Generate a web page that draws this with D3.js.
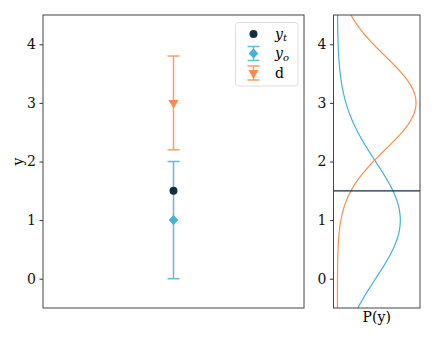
<!DOCTYPE html>
<html>
<head>
<meta charset="utf-8">
<script src="https://cdn.jsdelivr.net/npm/d3@7"></script>
<style>
  body { margin: 0; background: #fff; }
  svg { font-family: "DejaVu Serif", serif; }
</style>
</head>
<body>
<svg id="chart" width="436" height="339"></svg>
<script>
// point estimates and error bars
const names = ['y_t', 'y_o', 'd'];
const centers = [1.5, 1.0, 3.0];
const errors = [null, 1.0, 0.8];
const colors = ['#0e2f44', '#45b2d6', '#ff8c4b'];
const yTicks = [0, 1, 2, 3, 4];

// density curves in the side panel (mean, sd)
const densMeans = [1.0, 3.0];
const densSds = [1.0, 0.8];
const densColors = ['#45b2d6', '#ff8c4b'];

const svg = d3.select('#chart');

const main = { left: 43, right: 304, top: 15, bottom: 308 };
const side = { left: 333.5, right: 420 };

const y = d3.scaleLinear().domain([-0.5, 4.5]).range([main.bottom, main.top]);
const x = d3.scaleLinear().domain([-1, 1]).range([main.left, main.right]);
const xs = d3.scaleLinear().domain([-0.025, 0.524]).range([side.left, side.right]);

function yAxis(g, left) {
  g.attr('transform', `translate(${left},0)`)
    .call(d3.axisLeft(y).tickValues(yTicks).tickFormat(d3.format('d')).tickSize(3.5).tickPadding(3.5))
    .call(g => g.select('.domain').remove())
    .call(g => g.selectAll('line').attr('stroke', '#333'))
    .call(g => g.selectAll('text').attr('font-size', 14).attr('fill', '#111')
      .attr('font-family', '"DejaVu Serif", serif'));
}

svg.append('g').call(yAxis, main.left);
svg.append('g').call(yAxis, side.left);

svg.append('text')
  .attr('transform', `translate(23,${(main.top + main.bottom) / 2}) rotate(-90)`)
  .attr('text-anchor', 'middle')
  .attr('font-size', 14)
  .text('y');

svg.append('text')
  .attr('x', (side.left + side.right) / 2)
  .attr('y', 322)
  .attr('text-anchor', 'middle')
  .attr('font-size', 14)
  .text('P(y)');

// side panel densities
svg.append('clipPath').attr('id', 'sideclip')
  .append('rect')
  .attr('x', side.left).attr('y', main.top)
  .attr('width', side.right - side.left).attr('height', main.bottom - main.top);

const grid = d3.range(-0.5, 4.5001, 0.01);
const pdf = (v, m, s) => Math.exp(-0.5 * ((v - m) / s) ** 2) / (s * Math.sqrt(2 * Math.PI));

const densLine = d3.line().x(d => xs(d[1])).y(d => y(d[0]));
const sideG = svg.append('g').attr('clip-path', 'url(#sideclip)');
densMeans.forEach((m, i) => {
  sideG.append('path')
    .datum(grid.map(v => [v, pdf(v, m, densSds[i])]))
    .attr('fill', 'none')
    .attr('stroke', densColors[i])
    .attr('stroke-width', 1.2)
    .attr('d', densLine);
});
sideG.append('line')
  .attr('x1', side.left).attr('x2', side.right)
  .attr('y1', y(centers[0])).attr('y2', y(centers[0]))
  .attr('stroke', colors[0]).attr('stroke-width', 1.2);

// error bars
const capW = 6;
const pts = svg.append('g');
names.forEach((n, i) => {
  if (errors[i] == null) return;
  const cx = x(0);
  const lo = y(centers[i] - errors[i]), hi = y(centers[i] + errors[i]);
  const g = pts.append('g').attr('stroke', colors[i]).attr('stroke-width', 1.5).attr('opacity', 0.85);
  g.append('line').attr('x1', cx).attr('x2', cx).attr('y1', lo).attr('y2', hi);
  g.append('line').attr('x1', cx - capW).attr('x2', cx + capW).attr('y1', lo).attr('y2', lo);
  g.append('line').attr('x1', cx - capW).attr('x2', cx + capW).attr('y1', hi).attr('y2', hi);
});

const symbols = [d3.symbolCircle, d3.symbolSquare, d3.symbolTriangle];
const sizes = [50, 52, 45];
function marker(sel, i, cx, cy) {
  const p = sel.append('path')
    .attr('d', d3.symbol(symbols[i], sizes[i])())
    .attr('fill', colors[i]);
  if (i === 1) p.attr('transform', `translate(${cx},${cy}) scale(0.95,1) rotate(45)`);
  else if (i === 2) p.attr('transform', `translate(${cx},${cy}) rotate(180)`);
  else p.attr('transform', `translate(${cx},${cy})`);
}
[1, 0, 2].forEach(i => marker(pts, i, x(0), y(centers[i])));

// frames
svg.append('rect')
  .attr('x', main.left).attr('y', main.top)
  .attr('width', main.right - main.left).attr('height', main.bottom - main.top)
  .attr('fill', 'none').attr('stroke', '#444').attr('stroke-width', 1);
svg.append('rect')
  .attr('x', side.left).attr('y', main.top)
  .attr('width', side.right - side.left).attr('height', main.bottom - main.top)
  .attr('fill', 'none').attr('stroke', '#444').attr('stroke-width', 1);

// legend
const lg = svg.append('g');
lg.append('rect')
  .attr('x', 235.5).attr('y', 22.5).attr('width', 62.5).attr('height', 63.5)
  .attr('rx', 3).attr('fill', 'rgba(255,255,255,0.8)')
  .attr('stroke', '#ddd').attr('stroke-width', 1);
const rowY = [34, 53.5, 73];
const labels = [['y', 't'], ['y', 'o'], ['d', null]];
names.forEach((n, i) => {
  const mx = 253.5, my = rowY[i];
  if (errors[i] != null) {
    const g = lg.append('g').attr('stroke', colors[i]).attr('stroke-width', 1.5).attr('opacity', 0.85);
    g.append('line').attr('x1', mx).attr('x2', mx).attr('y1', my - 7).attr('y2', my + 7);
    g.append('line').attr('x1', mx - 6).attr('x2', mx + 6).attr('y1', my - 7).attr('y2', my - 7);
    g.append('line').attr('x1', mx - 6).attr('x2', mx + 6).attr('y1', my + 7).attr('y2', my + 7);
  }
  marker(lg, i, mx, my);
  const t = lg.append('text').attr('x', 275).attr('y', my + 4.5).attr('font-size', 14);
  if (labels[i][1]) {
    t.append('tspan').attr('font-style', 'italic').text(labels[i][0]);
    t.append('tspan').attr('font-style', 'italic').attr('font-size', 10).attr('dy', 2.5).text(labels[i][1]);
  } else {
    t.text(labels[i][0]);
  }
});
</script>
</body>
</html>
